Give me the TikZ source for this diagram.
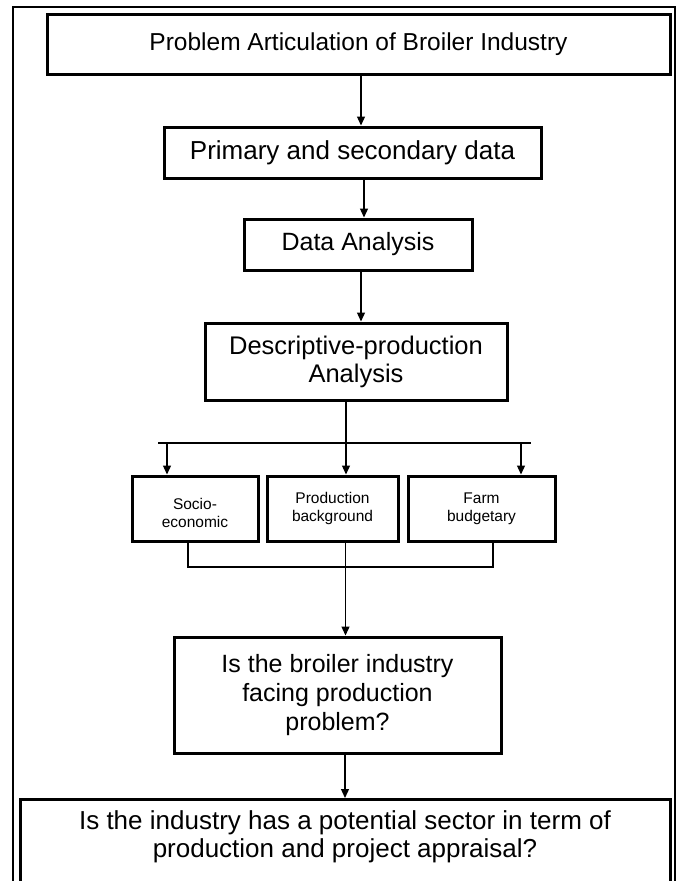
\documentclass[tikz,border=0pt]{standalone}
\usepackage{fontspec}
\setmainfont{Liberation Sans}
\usetikzlibrary{arrows.meta}

\begin{document}
\begin{tikzpicture}[x=1pt,y=-1pt,
    >={Triangle[length=9pt,width=8pt]},
    box/.style={draw=black,line width=3pt,inner sep=0pt,align=center,
      font=\fontsize{25}{29}\selectfont},
    small/.style={box,minimum height=65pt,font=\fontsize{15.5}{18}\selectfont},
    link/.style={line width=1.3pt}]
    \clip (0,0) rectangle (678,881);
    \draw[line width=1.6pt] (13,895) -- (13,7) -- (675,7) -- (675,895);

    \node[box,minimum width=623pt,minimum height=60pt,font=\fontsize{24.5}{28}\selectfont] (prob) at (358.5,44) {Problem Articulation of Broiler Industry};
    \node[box,minimum width=377pt,minimum height=51pt,font=\fontsize{26}{29}\selectfont] (data) at (352.5,152.5) {Primary and secondary data};
    \node[box,minimum width=228pt,minimum height=51pt] (anal) at (358,244.5) {Data Analysis};
    \node[box,minimum width=302pt,minimum height=77pt,font=\fontsize{25.5}{28}\selectfont] (desc) at (356,361.5) {Descriptive-production\\Analysis};

    \node[small,minimum width=126pt] (socio) at (195,508.5) {\rule{0pt}{20pt}Socio-\\economic};
    \node[small,minimum width=131pt] (prod) at (332.5,508.5) {Production\\background};
    \node[small,minimum width=147pt] (farm) at (481.5,508.5) {Farm\\budgetary};

    \node[box,minimum width=327pt,minimum height=116pt] (ques) at (337.5,695) {Is the broiler industry\\facing production\\problem?};
    \node[box,minimum width=650pt,minimum height=120pt,anchor=north] (sect) at (345,798) {};
    \node[font=\fontsize{26}{28}\selectfont,align=center] (secttxt) at (345,837) {Is the industry has a potential sector in term of\\production and project appraisal?};

    \coordinate (busT) at (158,443);
    \coordinate (busE) at (531,443);
    \coordinate (busB) at (345,567);

    \draw[link,->] ([xshift=2.5]prob.south) -- ([xshift=8.5]data.north);
    \draw[link,->] ([xshift=11.5]data.south) -- ([xshift=6]anal.north);
    \draw[link,->] ([xshift=3]anal.south) -- ([xshift=5]desc.north);
    \draw[link,->] ([xshift=-10]desc.south) -- ([xshift=-10]desc.south |- prod.north);
    \draw[link] (busT) -- (busE);
    \draw[link,->] ([xshift=-28]socio.north |- busT) -- ([xshift=-28]socio.north);
    \draw[link,->] ([xshift=39.5]farm.north |- busT) -- ([xshift=39.5]farm.north);
    \draw[link] ([xshift=-7]socio.south) |- (busB) -| ([xshift=11.5]farm.south);
    \draw[link,->] ([xshift=13]prod.south) -- ([xshift=13]prod.south |- ques.north);
    \draw[link,->] ([xshift=7.5]ques.south) -- ([xshift=7.5]ques.south |- sect.north);
\end{tikzpicture}
\end{document}
